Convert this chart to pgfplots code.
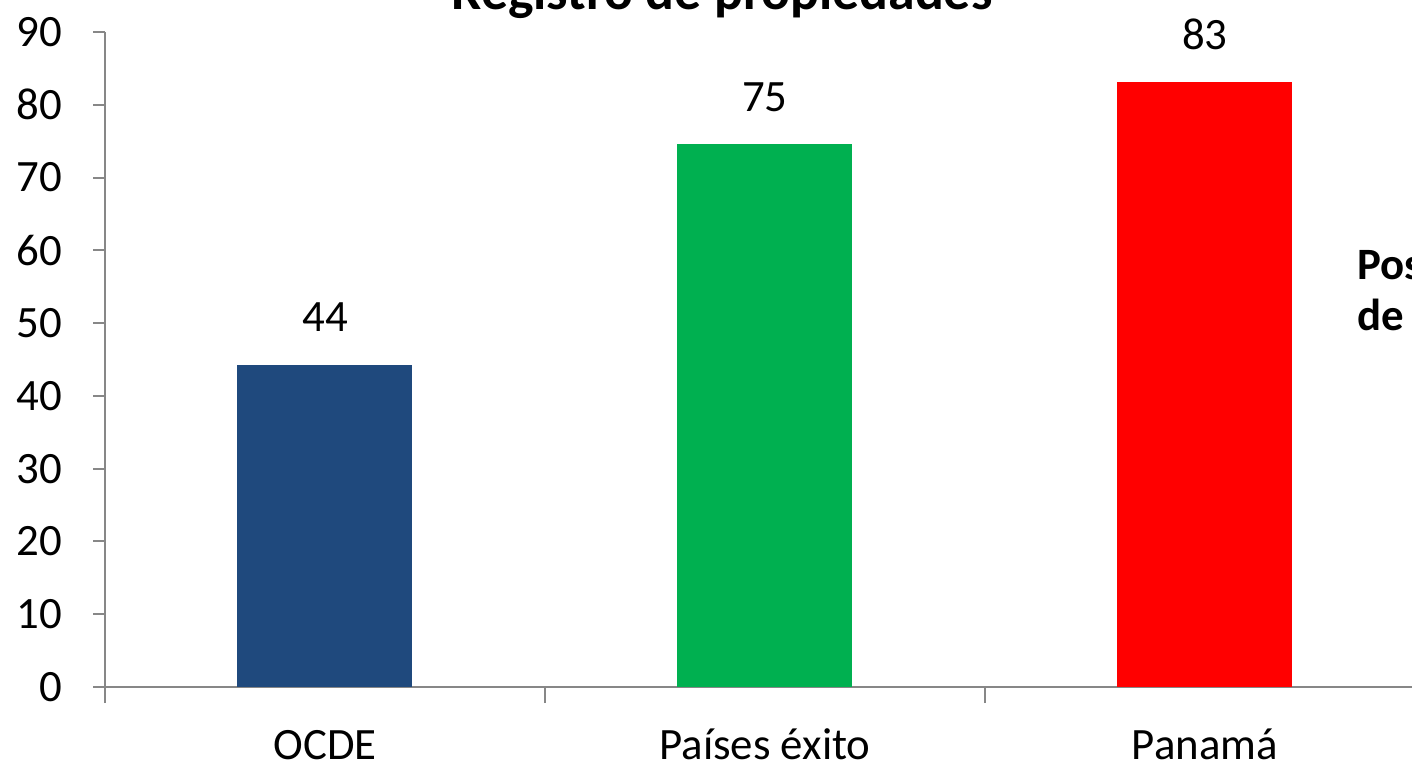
\documentclass[border=0pt]{standalone}
\usepackage{pgfplots}
\pgfplotsset{compat=1.18}
\usepackage{fontspec}
\setmainfont{Carlito}
\definecolor{cBlue}{HTML}{1F497D}
\definecolor{cGreen}{HTML}{00B050}
\definecolor{cRed}{HTML}{FF0000}
\definecolor{axgray}{HTML}{878787}
\begin{document}
\begin{tikzpicture}[x=1bp,y=1bp]
\begin{axis}[
  at={(105bp,79bp)}, anchor=south west,
  scale only axis, width=1320bp, height=655bp,
  xmin=-0.5, xmax=2.5, ymin=0, ymax=90,
  axis x line*=bottom, axis y line*=left,
  axis line style={draw=axgray, line width=2bp},
  ytick={0,10,...,90},
  xtick={0,1,2},
  xticklabels={OCDE, Países éxito, Panamá},
  minor xtick={-0.5,0.5,1.5,2.5},
  tick align=outside,
  major tick length=12bp,
  minor tick length=16bp,
  every tick/.style={draw=axgray, line width=2bp},
  x tick style={draw=none},
  minor x tick style={draw=axgray, line width=2bp},
  /pgf/number format/assume math mode=true,
  tick label style={font=\fontsize{45}{52}\selectfont, text=black},
  yticklabel style={anchor=east, inner sep=0pt, xshift=-31bp},
  xticklabel style={anchor=base, inner sep=0pt, yshift=-60bp},
  ybar, bar width=175bp,
  bar shift=0pt,
  nodes near coords,
  nodes near coords style={font=\fontsize{45}{52}\selectfont, text=black, anchor=base, inner sep=0pt, yshift=33bp, /pgf/number format/fixed, /pgf/number format/precision=0, /pgf/number format/assume math mode=true},
  clip=false,
]
\addplot[draw=none, fill=cBlue] coordinates {(0,44.3)};
\addplot[draw=none, fill=cGreen] coordinates {(1,74.6)};
\addplot[draw=none, fill=cRed] coordinates {(2,83.1)};
\end{axis}
\node[anchor=base, inner sep=0pt, font=\fontsize{54}{64}\selectfont\bfseries] at (722bp,756bp) {Registro de propiedades};
\node[anchor=base west, inner sep=0pt, font=\fontsize{45}{52}\selectfont\bfseries] at (1357bp,486bp) {Posición};
\node[anchor=base west, inner sep=0pt, font=\fontsize{45}{52}\selectfont\bfseries] at (1357bp,435bp) {de Panamá};
\pgfresetboundingbox
\useasboundingbox (0,0) rectangle (1412bp,766bp);
\end{tikzpicture}
\end{document}
